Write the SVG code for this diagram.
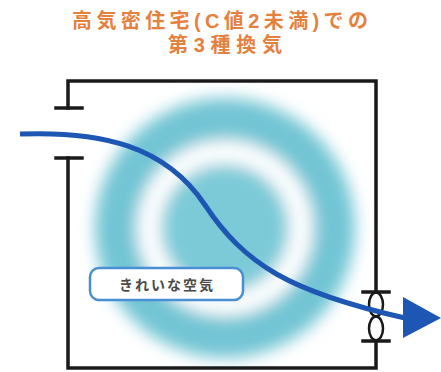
<svg xmlns="http://www.w3.org/2000/svg" width="441" height="372" viewBox="0 0 441 372">
  <defs>
    <style>
      .title { font-family: "Liberation Sans", "Noto Sans CJK JP", sans-serif; font-weight: 700; fill: #e5813f; font-size: 20px; }
      .wall { fill: none; stroke: #1a1a1a; stroke-width: 3.5; stroke-linecap: square; }
      .flow { fill: none; stroke: #1d57b3; stroke-width: 5; }
      .label-box { fill: #ffffff; stroke: #4a8fd3; stroke-width: 2.5; }
      .label-text { font-family: "Noto Sans CJK JP", "Noto Sans", sans-serif; font-weight: 700; font-size: 14px; fill: #4a4a4a; letter-spacing: 2px; }
    </style>
    <filter id="soft" x="-30%" y="-30%" width="160%" height="160%">
      <feGaussianBlur stdDeviation="8"/>
    </filter>
    <clipPath id="room">
      <rect x="70" y="83" width="304" height="283"/>
    </clipPath>
  </defs>

  <rect width="441" height="372" fill="#ffffff"/>

  <!-- heading -->
  <g id="title">
    <text class="title" x="220" y="28" text-anchor="middle" textLength="296" lengthAdjust="spacing">高気密住宅(C値2未満)での</text>
    <text class="title" x="225" y="52" text-anchor="middle" textLength="114" lengthAdjust="spacing">第3種換気</text>
  </g>

  <!-- clean air rings inside the room -->
  <g id="clean-air" clip-path="url(#room)">
    <g filter="url(#soft)">
      <circle cx="225" cy="228" r="130" fill="#72c5d4"/>
      <circle cx="225" cy="228" r="76" fill="none" stroke="#ffffff" stroke-width="24"/>
      <circle cx="225" cy="228" r="62" fill="#7ccad8"/>
    </g>
  </g>

  <!-- room walls with inlet gap and outlet fan -->
  <g id="house">
    <polyline class="wall" points="68,108 68,81 376,81 376,292"/>
    <line class="wall" x1="56" y1="108" x2="82" y2="108"/>
    <line class="wall" x1="56" y1="158" x2="82" y2="158"/>
    <polyline class="wall" points="68,158 68,368 376,368 376,341"/>
    <line class="wall" x1="363" y1="292" x2="389" y2="292"/>
    <line class="wall" x1="363" y1="341" x2="389" y2="341"/>
    <ellipse cx="376" cy="304.5" rx="7" ry="12" fill="none" stroke="#1a1a1a" stroke-width="2.5"/>
    <ellipse cx="376" cy="328.5" rx="7" ry="12" fill="none" stroke="#1a1a1a" stroke-width="2.5"/>
  </g>

  <!-- airflow path -->
  <g id="connectors">
    <path class="flow" d="M20,134 C100,131 165,145 205,205 C245,265 290,292 405,318"/>
    <polygon points="403,297 441,318 403,338" fill="#1d57b3"/>
  </g>

  <g id="label">
    <rect class="label-box" x="90" y="268" width="153" height="32" rx="9"/>
    <text class="label-text" x="167" y="290" text-anchor="middle">きれいな空気</text>
  </g>
</svg>
